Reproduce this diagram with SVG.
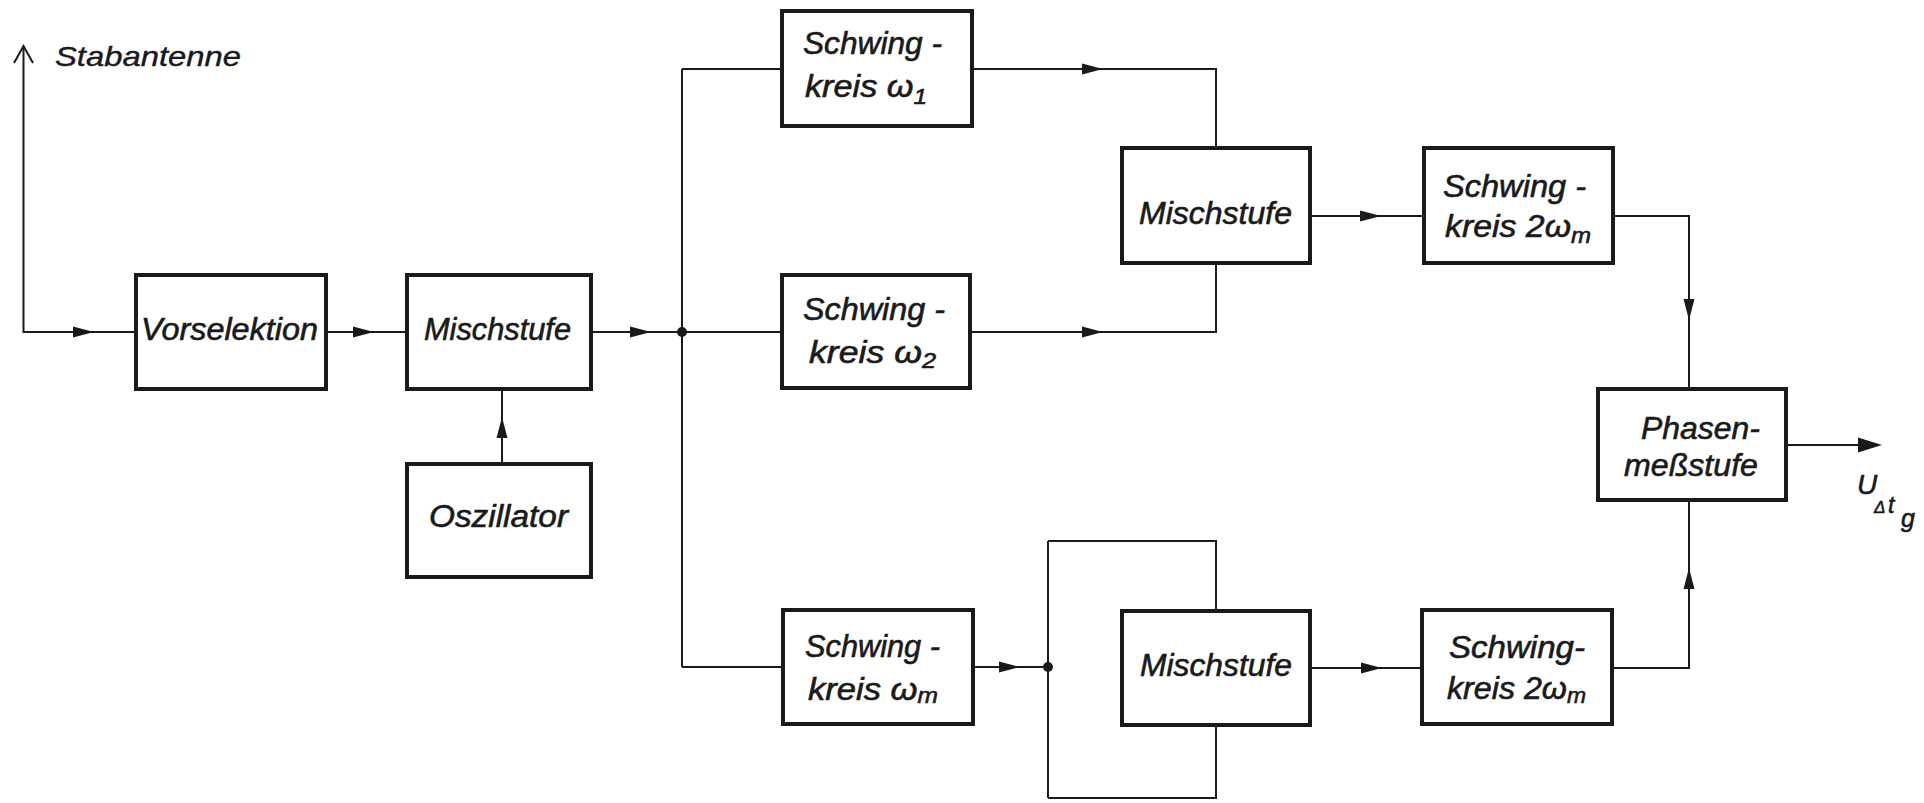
<svg xmlns="http://www.w3.org/2000/svg" width="1924" height="803" viewBox="0 0 1924 803">
<style>
  .box { fill: #ffffff; stroke: #1a1a1a; stroke-width: 4; }
  .wire { fill: none; stroke: #1a1a1a; stroke-width: 2; }
  .head { fill: #1a1a1a; stroke: none; }
  .dot { fill: #1a1a1a; }
  .t { font-family: "Liberation Sans", Arial, sans-serif; font-style: italic; font-size: 31px; fill: #1a1a1a; stroke: #1a1a1a; stroke-width: 0.6px; }
  .sub { font-size: 22px; }
</style>
<defs>
  <path id="ah" d="M0,0 L-21,-5.5 L-21,5.5 Z"/>
</defs>
<rect x="0" y="0" width="1924" height="803" fill="#ffffff"/>

<g id="connectors">
  <!-- antenna -->
  <polyline class="wire" points="23.5,46 23.5,332 136,332"/>
  <polyline class="wire" points="14,63 23.5,46 33,63"/>
  <use href="#ah" class="head" transform="translate(94,332)"/>
  <!-- Vorselektion -> Mischstufe -->
  <line class="wire" x1="326" y1="332" x2="407" y2="332"/>
  <use href="#ah" class="head" transform="translate(374,332)"/>
  <!-- Oszillator -> Mischstufe -->
  <line class="wire" x1="502" y1="464" x2="502" y2="389"/>
  <use href="#ah" class="head" transform="translate(502,417) rotate(-90)"/>
  <!-- Mischstufe -> junction -->
  <line class="wire" x1="591" y1="332" x2="682" y2="332"/>
  <use href="#ah" class="head" transform="translate(651,332)"/>
  <circle class="dot" cx="682" cy="332" r="5"/>
  <!-- distribution bus -->
  <line class="wire" x1="682" y1="69" x2="682" y2="667"/>
  <line class="wire" x1="682" y1="69" x2="782" y2="69"/>
  <line class="wire" x1="682" y1="332" x2="782" y2="332"/>
  <line class="wire" x1="682" y1="667" x2="783" y2="667"/>
  <!-- SK w1 -> Mischstufe upper -->
  <polyline class="wire" points="972,69 1216,69 1216,148"/>
  <use href="#ah" class="head" transform="translate(1103,69)"/>
  <!-- SK w2 -> Mischstufe upper -->
  <polyline class="wire" points="970,332 1216,332 1216,263"/>
  <use href="#ah" class="head" transform="translate(1103,332)"/>
  <!-- Mischstufe upper -> SK 2wm upper -->
  <line class="wire" x1="1310" y1="216" x2="1424" y2="216"/>
  <use href="#ah" class="head" transform="translate(1381,216)"/>
  <!-- SK 2wm upper -> Phasen -->
  <polyline class="wire" points="1613,216 1689,216 1689,389"/>
  <use href="#ah" class="head" transform="translate(1689,320) rotate(90)"/>
  <!-- Phasen output -->
  <line class="wire" x1="1786" y1="445" x2="1870" y2="445"/>
  <path class="head" d="M1882,445 L1858,437.5 L1858,452.5 Z"/>
  <!-- SK wm -> junction -->
  <line class="wire" x1="973" y1="667" x2="1048" y2="667"/>
  <use href="#ah" class="head" transform="translate(1020,667)"/>
  <circle class="dot" cx="1048" cy="667" r="5"/>
  <!-- loop around lower Mischstufe -->
  <line class="wire" x1="1048" y1="541" x2="1048" y2="798"/>
  <polyline class="wire" points="1048,541 1216,541 1216,611"/>
  <polyline class="wire" points="1048,798 1216,798 1216,725"/>
  <!-- Mischstufe lower -> SK 2wm lower -->
  <line class="wire" x1="1310" y1="668" x2="1422" y2="668"/>
  <use href="#ah" class="head" transform="translate(1382,668)"/>
  <!-- SK 2wm lower -> Phasen -->
  <polyline class="wire" points="1612,668 1689,668 1689,500"/>
  <use href="#ah" class="head" transform="translate(1689,568) rotate(-90)"/>
</g>

<g id="antenna-label">
  <text class="t" x="55" y="66" style="font-size:28px;stroke-width:0.4px" textLength="186" lengthAdjust="spacingAndGlyphs">Stabantenne</text>
</g>

<g id="vorselektion">
  <rect class="box" x="136" y="275" width="190" height="114"/>
  <text class="t" x="141" y="340" textLength="177" lengthAdjust="spacingAndGlyphs">Vorselektion</text>
</g>

<g id="mischstufe1">
  <rect class="box" x="407" y="275" width="184" height="114"/>
  <text class="t" x="424" y="340" textLength="147" lengthAdjust="spacingAndGlyphs">Mischstufe</text>
</g>

<g id="oszillator">
  <rect class="box" x="407" y="464" width="184" height="113"/>
  <text class="t" x="429" y="527" textLength="139" lengthAdjust="spacingAndGlyphs">Oszillator</text>
</g>

<g id="schwingkreis-w1">
  <rect class="box" x="782" y="11" width="190" height="115"/>
  <text class="t" x="803" y="54" textLength="139" lengthAdjust="spacingAndGlyphs">Schwing -</text>
  <text class="t" x="805" y="97" textLength="122" lengthAdjust="spacingAndGlyphs">kreis ω<tspan class="sub" dy="7">1</tspan></text>
</g>

<g id="schwingkreis-w2">
  <rect class="box" x="782" y="275" width="188" height="113"/>
  <text class="t" x="803" y="320" textLength="142" lengthAdjust="spacingAndGlyphs">Schwing -</text>
  <text class="t" x="809" y="363" textLength="127" lengthAdjust="spacingAndGlyphs">kreis ω<tspan class="sub" dy="5">2</tspan></text>
</g>

<g id="schwingkreis-wm">
  <rect class="box" x="783" y="610" width="190" height="114"/>
  <text class="t" x="805" y="657" textLength="135" lengthAdjust="spacingAndGlyphs">Schwing -</text>
  <text class="t" x="808" y="700" textLength="130" lengthAdjust="spacingAndGlyphs">kreis ω<tspan class="sub" dy="3">m</tspan></text>
</g>

<g id="mischstufe2">
  <rect class="box" x="1122" y="148" width="188" height="115"/>
  <text class="t" x="1139" y="224" textLength="153" lengthAdjust="spacingAndGlyphs">Mischstufe</text>
</g>

<g id="mischstufe3">
  <rect class="box" x="1122" y="611" width="188" height="114"/>
  <text class="t" x="1140" y="676" textLength="152" lengthAdjust="spacingAndGlyphs">Mischstufe</text>
</g>

<g id="schwingkreis-2wm-upper">
  <rect class="box" x="1424" y="148" width="189" height="115"/>
  <text class="t" x="1443" y="197" textLength="143" lengthAdjust="spacingAndGlyphs">Schwing -</text>
  <text class="t" x="1445" y="237" textLength="146" lengthAdjust="spacingAndGlyphs">kreis 2ω<tspan class="sub" dy="6">m</tspan></text>
</g>

<g id="schwingkreis-2wm-lower">
  <rect class="box" x="1422" y="610" width="190" height="114"/>
  <text class="t" x="1449" y="658" textLength="136" lengthAdjust="spacingAndGlyphs">Schwing-</text>
  <text class="t" x="1447" y="699" textLength="139" lengthAdjust="spacingAndGlyphs">kreis 2ω<tspan class="sub" dy="4">m</tspan></text>
</g>

<g id="phasenmessstufe">
  <rect class="box" x="1598" y="389" width="188" height="111"/>
  <text class="t" x="1641" y="439" textLength="119" lengthAdjust="spacingAndGlyphs">Phasen-</text>
  <text class="t" x="1624" y="476" textLength="134" lengthAdjust="spacingAndGlyphs">meßstufe</text>
</g>

<g id="output-label">
  <text class="t" x="1857" y="494" style="font-size:28px">U<tspan x="1874" y="513" style="font-size:17px">Δ</tspan><tspan x="1888" y="513" style="font-size:23px">t</tspan><tspan x="1901" y="527" style="font-size:25px">g</tspan></text>
</g>
</svg>
